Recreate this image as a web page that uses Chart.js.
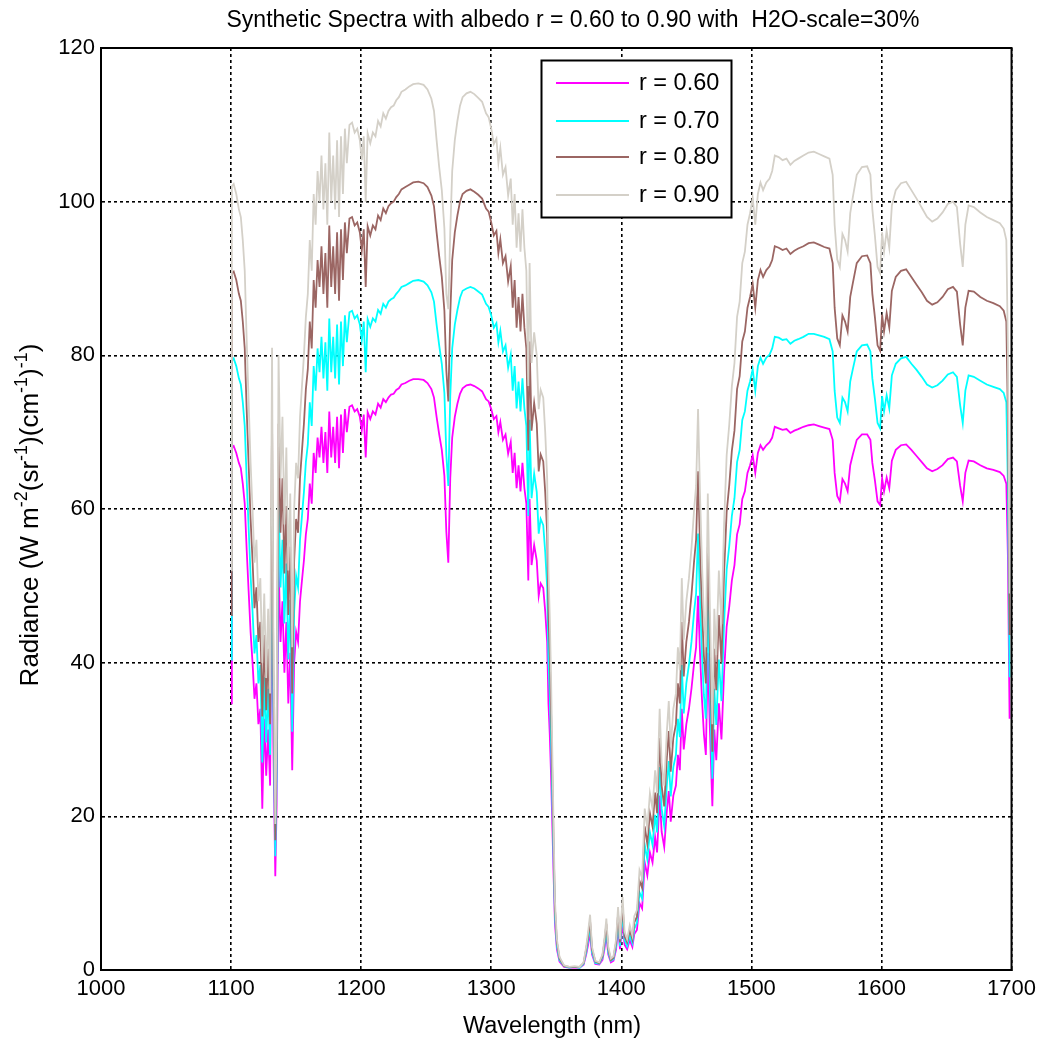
<!DOCTYPE html>
<html>
<head>
<meta charset="utf-8">
<script src="https://cdn.jsdelivr.net/npm/chart.js@4.4.0/dist/chart.umd.min.js"></script>
<style>
  html, body { margin: 0; padding: 0; background: #fff; }
</style>
</head>
<body>
<canvas id="spectra" width="1042" height="1045"></canvas>
<script>
// --- data ---
const wavelength = [
  1100, 1100.6, 1102, 1104, 1106, 1107.5, 1109, 1110.5, 1112, 1113.5,
  1115, 1116.5, 1118, 1119.5, 1121, 1122.5, 1124, 1125.5, 1127, 1128.5,
  1130, 1131.5, 1132.5, 1134, 1135, 1136.5, 1138, 1139.5, 1141, 1142.5,
  1144, 1145.5, 1147, 1148.5, 1150, 1151.5, 1153, 1154.5, 1156, 1157.5,
  1159, 1160.5, 1162, 1163.5, 1165, 1166.5, 1168, 1169.5, 1171, 1172.5,
  1174, 1175.5, 1177, 1178.5, 1180, 1181.5, 1183, 1184.5, 1186, 1187.5,
  1189, 1191, 1193, 1195, 1197, 1199, 1200.5, 1202, 1203.5, 1205,
  1207, 1209, 1211, 1213, 1215, 1217, 1219, 1221, 1223, 1225,
  1227, 1229, 1231, 1234, 1237, 1240, 1244, 1248, 1251, 1254,
  1256, 1258, 1260, 1262, 1264, 1265.5, 1267, 1268.5, 1270, 1272,
  1274, 1276, 1278, 1281, 1284, 1287, 1290, 1293, 1296, 1298,
  1300, 1302, 1304, 1305.5, 1307, 1309, 1311, 1313, 1315, 1316.5,
  1318, 1319.5, 1321, 1322.5, 1324, 1325.5, 1327, 1328.5, 1329.5, 1331,
  1333, 1335, 1336.5, 1338, 1340, 1341.5, 1343, 1344, 1345, 1346,
  1347, 1348, 1349, 1350.5, 1352.5, 1356, 1360, 1364, 1368, 1371,
  1373, 1374.5, 1376, 1377.5, 1380, 1383, 1385.5, 1387, 1388.5, 1390,
  1392, 1394, 1396, 1397.5, 1399, 1401, 1402.5, 1404.5, 1406.5, 1408.5,
  1410, 1412, 1414, 1416, 1418, 1420, 1422, 1424, 1426, 1427.5,
  1429.5, 1431, 1433, 1435, 1436.5, 1438, 1440, 1442, 1443.5, 1445,
  1446.5, 1448, 1450, 1452, 1454, 1456, 1457.5, 1459, 1460.5, 1462,
  1463.5, 1465, 1466.5, 1468, 1470, 1471.5, 1473, 1475, 1477, 1479,
  1481, 1483, 1485, 1487, 1489, 1491, 1493, 1495, 1497, 1499,
  1501, 1503, 1505, 1507, 1509, 1511.5, 1514, 1516, 1518, 1521,
  1524, 1527, 1530, 1533, 1536, 1540, 1544, 1548, 1552, 1556,
  1560, 1562.5, 1564, 1566, 1568, 1570, 1572, 1574, 1576, 1578,
  1581, 1585, 1589, 1591.5, 1593, 1595, 1597, 1599, 1600.5, 1602,
  1604, 1606, 1608, 1611, 1615, 1619, 1623, 1627, 1631, 1635,
  1639, 1643, 1647, 1651, 1655, 1658, 1660.5, 1662.5, 1664.5, 1667,
  1671, 1676, 1681, 1686, 1691, 1694, 1696, 1697.2, 1698.5
];

const r060 = [
  34.7, 68, 68.2, 67.3, 66, 65.3, 63.3, 60.7, 54.7, 49.3,
  44, 40, 35.3, 37.3, 32, 34, 21, 32.7, 25.3, 31.3,
  24, 54, 29.3, 12.2, 21.3, 53.3, 42.7, 48, 38.7, 45.3,
  34.7, 41.3, 26, 40, 44, 42.7, 48, 50.7, 53.3, 56.7,
  58.7, 63.3, 60.7, 67.3, 64.7, 69.3, 66.7, 70.7, 66, 70,
  64.7, 72.7, 66.7, 70.7, 66, 72, 65.3, 72.3, 67.3, 73,
  70, 73.3, 73.5, 72.7, 73, 72, 70.3, 72.3, 66.7, 72.6,
  71.7, 72.7, 72.3, 73.7, 73.2, 74.3, 73.9, 74.5, 74.9, 75,
  75.5, 75.7, 76.2, 76.4, 76.7, 76.9, 76.9, 76.8, 76.4, 75.6,
  74.5, 72, 69.7, 67.7, 64.3, 57, 53, 64, 69.3, 72,
  73.7, 75, 75.7, 76.1, 76.2, 76, 75.7, 75.3, 74.3, 74,
  73, 71.7, 72.1, 70, 71.3, 69, 69.7, 67.2, 68.7, 64.7,
  67.3, 62.7, 65.7, 62.3, 66, 62.7, 60.7, 50.7, 61.3, 52.7,
  55.3, 53.3, 48.7, 50.3, 49.7, 46.7, 42.7, 34.7, 30.7, 25.3,
  18.7, 12, 6, 2.7, 1.1, 0.4, 0.3, 0.3, 0.3, 0.7,
  2, 3.3, 4.8, 2, 0.8, 0.7, 1.3, 2.7, 4.5, 2,
  1, 1.2, 2.7, 5.5, 2.7, 6.3, 3.3, 2.7, 3.9, 3,
  4.7, 5.2, 8.7, 8, 14, 12.3, 15.3, 14, 17.3, 15.3,
  22.7, 18, 16, 20.7, 23.3, 19.3, 22.7, 24, 28, 26,
  34, 28.7, 32, 34, 36.7, 40, 42, 48.7, 41.3, 35.3,
  30.7, 28, 41.3, 32, 21.3, 31.3, 27.3, 34.7, 30, 38.7,
  44.7, 47.3, 50.7, 52.7, 56.7, 58, 61.3, 62.3, 64.7, 65.7,
  67, 64.7, 67.3, 68.3, 67.7, 68.3, 68.7, 69.3, 70.7, 70.5,
  70.3, 70.4, 69.9, 70.2, 70.4, 70.7, 70.9, 71, 70.8, 70.6,
  70.4, 69, 64.7, 61.7, 61, 63.9, 63.3, 62.3, 65.7, 67.1,
  69, 69.7, 69.7, 69, 66, 63.7, 61, 60.5, 64, 62.3,
  64.1, 62.7, 66.3, 67.7, 68.3, 68.4, 67.7, 66.9, 66.1, 65.3,
  64.9, 65.2, 65.7, 66.5, 66.7, 66.2, 63, 61, 64.7, 66.3,
  66.2, 65.7, 65.3, 65.1, 64.8, 64.3, 63.3, 54, 32.7
];

const r070 = [
  40.4, 79.3, 79.6, 78.6, 77, 76.2, 73.9, 70.8, 63.8, 57.6,
  51.3, 46.7, 41.2, 43.6, 37.3, 39.7, 27, 38.1, 29.6, 36.6,
  28, 63, 34.2, 14.8, 24.9, 62.2, 49.8, 56, 45.1, 52.9,
  40.4, 48.2, 31, 46.7, 51.3, 49.8, 56, 59.1, 62.2, 66.1,
  68.4, 73.9, 70.8, 78.6, 75.4, 80.9, 77.8, 82.4, 77, 81.7,
  75.4, 84.8, 77.8, 82.4, 77, 84, 76.2, 84.4, 78.6, 85.2,
  81.7, 85.6, 85.8, 84.8, 85.2, 84, 82, 84.4, 77.8, 84.7,
  83.7, 84.8, 84.4, 85.9, 85.4, 86.7, 86.2, 87, 87.3, 87.5,
  88, 88.4, 88.9, 89.1, 89.4, 89.7, 89.8, 89.6, 89.1, 88.2,
  87, 84, 81.3, 78.9, 75.1, 67, 63, 74.7, 80.9, 84,
  85.9, 87.5, 88.4, 88.7, 88.9, 88.7, 88.3, 87.9, 86.7, 86.3,
  85.2, 83.6, 84.2, 81.7, 83.2, 80.5, 81.3, 78.4, 80.1, 75.4,
  78.6, 73.1, 76.6, 72.7, 77, 73.1, 70.8, 59.1, 71.6, 61.4,
  64.6, 62.2, 56.8, 58.7, 57.9, 54.4, 49.8, 40.4, 35.8, 29.6,
  21.8, 14, 7, 3.1, 1.3, 0.5, 0.3, 0.4, 0.3, 0.8,
  2.3, 3.9, 5.6, 2.3, 0.9, 0.8, 1.6, 3.1, 5.2, 2.3,
  1.2, 1.4, 3.1, 6.4, 3.1, 7.4, 3.9, 3.1, 4.5, 3.5,
  5.4, 6.1, 10.1, 9.3, 16.3, 14.4, 17.9, 16.3, 20.2, 17.9,
  26.4, 21, 18.7, 24.1, 27.2, 22.6, 26.4, 28, 32.7, 30.3,
  39.7, 33.4, 37.3, 39.7, 42.8, 46.7, 49, 56.8, 48.2, 41.2,
  35.8, 32.7, 48.2, 37.3, 24.9, 36.6, 31.9, 40.4, 35, 45.1,
  52.1, 55.2, 59.1, 61.4, 66.1, 67.7, 71.6, 72.7, 75.4, 76.6,
  78.2, 75.4, 78.6, 79.7, 78.9, 79.7, 80.1, 80.9, 82.4, 82.3,
  82, 82.1, 81.5, 81.9, 82.1, 82.4, 82.8, 82.8, 82.6, 82.4,
  82.1, 80.5, 75.4, 71.9, 71.2, 74.5, 73.9, 72.7, 76.6, 78.2,
  80.5, 81.3, 81.4, 80.5, 77, 74.3, 71.2, 70.5, 74.7, 72.7,
  74.8, 73.1, 77.4, 78.9, 79.6, 79.8, 78.9, 78.1, 77.2, 76.2,
  75.8, 76.1, 76.7, 77.5, 77.8, 77.2, 73.5, 71.2, 75.4, 77.4,
  77.2, 76.7, 76.2, 75.9, 75.6, 75.1, 73.9, 63, 38.1
];

const r080 = [
  46.2, 90.7, 90.9, 89.8, 88, 87.1, 84.4, 80.9, 72.9, 65.8,
  58.7, 53.3, 47.1, 49.8, 42.7, 45.3, 33, 43.6, 33.8, 41.8,
  32, 72, 39.1, 16.9, 28.4, 71.1, 56.9, 64, 51.6, 60.4,
  46.2, 55.1, 36, 53.3, 58.7, 56.9, 64, 67.6, 71.1, 75.6,
  78.2, 84.4, 80.9, 89.8, 86.2, 92.4, 88.9, 94.2, 88, 93.3,
  86.2, 96.9, 88.9, 94.2, 88, 96, 87.1, 96.4, 89.8, 97.3,
  93.3, 97.8, 98, 96.9, 97.3, 96, 93.7, 96.4, 88.9, 96.8,
  95.6, 96.9, 96.4, 98.2, 97.6, 99.1, 98.5, 99.4, 99.8, 100,
  100.6, 101, 101.6, 101.9, 102.2, 102.5, 102.6, 102.4, 101.9, 100.8,
  99.4, 96, 92.9, 90.2, 85.8, 78, 74, 85.3, 92.4, 96,
  98.2, 100, 101, 101.4, 101.6, 101.3, 100.9, 100.4, 99.1, 98.7,
  97.3, 95.6, 96.2, 93.3, 95.1, 92, 92.9, 89.6, 91.6, 86.2,
  89.8, 83.6, 87.6, 83.1, 88, 83.6, 80.9, 67.6, 81.8, 70.2,
  73.8, 71.1, 64.9, 67.1, 66.2, 62.2, 56.9, 46.2, 40.9, 33.8,
  24.9, 16, 8, 3.6, 1.5, 0.5, 0.4, 0.4, 0.4, 0.9,
  2.7, 4.4, 6.4, 2.7, 1.1, 0.9, 1.8, 3.6, 6, 2.7,
  1.3, 1.6, 3.6, 7.3, 3.6, 8.4, 4.4, 3.6, 5.2, 4,
  6.2, 6.9, 11.6, 10.7, 18.7, 16.4, 20.4, 18.7, 23.1, 20.4,
  30.2, 24, 21.3, 27.6, 31.1, 25.8, 30.2, 32, 37.3, 34.7,
  45.3, 38.2, 42.7, 45.3, 48.9, 53.3, 56, 64.9, 55.1, 47.1,
  40.9, 37.3, 55.1, 42.7, 28.4, 41.8, 36.4, 46.2, 40, 51.6,
  59.6, 63.1, 67.6, 70.2, 75.6, 77.3, 81.8, 83.1, 86.2, 87.6,
  89.3, 86.2, 89.8, 91.1, 90.2, 91.1, 91.6, 92.4, 94.2, 94,
  93.7, 93.9, 93.2, 93.6, 93.9, 94.2, 94.6, 94.7, 94.4, 94.1,
  93.9, 92, 86.2, 82.2, 81.3, 85.2, 84.4, 83.1, 87.6, 89.4,
  92, 92.9, 93, 92, 88, 84.9, 81.3, 80.6, 85.3, 83.1,
  85.5, 83.6, 88.4, 90.2, 91, 91.2, 90.2, 89.2, 88.2, 87.1,
  86.6, 86.9, 87.6, 88.6, 88.9, 88.3, 84, 81.3, 86.2, 88.4,
  88.3, 87.6, 87.1, 86.8, 86.4, 85.8, 84.4, 72, 43.6
];

const r090 = [
  52, 102, 102.3, 101, 99, 98, 95, 91, 82, 74,
  66, 60, 53, 56, 48, 51, 40, 49, 38, 47,
  36, 81, 44, 19, 32, 80, 64, 72, 58, 68,
  52, 62, 42, 60, 66, 64, 72, 76, 80, 85,
  88, 95, 91, 101, 97, 104, 100, 106, 99, 105,
  97, 109, 100, 106, 99, 108, 98, 108.5, 101, 109.5,
  105, 110, 110.3, 109, 109.5, 108, 105.4, 108.5, 100, 108.9,
  107.6, 109, 108.5, 110.5, 109.8, 111.5, 110.8, 111.8, 112.3, 112.5,
  113.2, 113.6, 114.3, 114.6, 115, 115.3, 115.4, 115.2, 114.6, 113.4,
  111.8, 108, 104.5, 101.5, 96.5, 88, 86, 96, 104, 108,
  110.5, 112.5, 113.6, 114.1, 114.3, 114, 113.5, 113, 111.5, 111,
  109.5, 107.5, 108.2, 105, 107, 103.5, 104.5, 100.8, 103, 97,
  101, 94, 98.5, 93.5, 99, 94, 91, 76, 92, 79,
  83, 80, 73, 75.5, 74.5, 70, 64, 52, 46, 38,
  28, 18, 9, 4, 1.7, 0.6, 0.4, 0.5, 0.4, 1,
  3, 5, 7.2, 3, 1.2, 1, 2, 4, 6.7, 3,
  1.5, 1.8, 4, 8.2, 4, 9.5, 5, 4, 5.8, 4.5,
  7, 7.8, 13, 12, 21, 18.5, 23, 21, 26, 23,
  34, 27, 24, 31, 35, 29, 34, 36, 42, 39,
  51, 43, 48, 51, 55, 60, 63, 73, 62, 53,
  46, 42, 62, 48, 32, 47, 41, 52, 45, 58,
  67, 71, 76, 79, 85, 87, 92, 93.5, 97, 98.5,
  100.5, 97, 101, 102.5, 101.5, 102.5, 103, 104, 106, 105.8,
  105.4, 105.6, 104.8, 105.3, 105.6, 106, 106.4, 106.5, 106.2, 105.9,
  105.6, 103.5, 97, 92.5, 91.5, 95.8, 95, 93.5, 98.5, 100.6,
  103.5, 104.5, 104.6, 103.5, 99, 95.5, 91.5, 90.7, 96, 93.5,
  96.2, 94, 99.5, 101.5, 102.4, 102.6, 101.5, 100.4, 99.2, 98,
  97.4, 97.8, 98.6, 99.7, 100, 99.3, 94.5, 91.5, 97, 99.5,
  99.3, 98.6, 98, 97.6, 97.2, 96.5, 95, 81, 49
];

const seriesNames = ["r = 0.60", "r = 0.70", "r = 0.80", "r = 0.90"];
const seriesColors = ["#ff00ff", "#00ffff", "#9b6663", "#d4d0c8"];
const xTicks = { min: 1000, max: 1700, step: 100 };
const yTicks = { min: 0, max: 120, step: 20 };

const titleText = "Synthetic Spectra with albedo r = 0.60 to 0.90 with  H2O-scale=30%";
const xTitleText = "Wavelength (nm)";
// y title pieces: [text, is superscript]
const yTitleParts = [["Radiance (W m", 0], ["-2", 1], ["(sr", 0], ["-1", 1], [")(cm", 0], ["-1", 1], [")", 0], ["-1", 1], [")", 0]];

const FONT = '"Liberation Sans", Arial, Helvetica, sans-serif';

// --- frame, titles, legend ---
const decorations = {
    id: "decorations",
    afterDraw(chart) {
        const { ctx, chartArea: a } = chart;
        ctx.save();
        ctx.strokeStyle = "#000";
        ctx.lineWidth = 2;
        ctx.strokeRect(a.left, a.top, a.right - a.left, a.bottom - a.top);

        ctx.fillStyle = "#000";
        ctx.textAlign = "center";
        ctx.textBaseline = "middle";
        ctx.font = "23px " + FONT;
        ctx.fillText(titleText, 573, 21);
        ctx.font = "23.5px " + FONT;
        ctx.fillText(xTitleText, 552, 1027);

        // y axis title with superscripts
        const base = "26px " + FONT, sup = "18px " + FONT;
        let total = 0;
        yTitleParts.forEach(p => { ctx.font = p[1] ? sup : base; total += ctx.measureText(p[0]).width; });
        ctx.translate(31, 515);
        ctx.rotate(-Math.PI / 2);
        ctx.textAlign = "left";
        let x = -total / 2;
        yTitleParts.forEach(p => {
            ctx.font = p[1] ? sup : base;
            ctx.fillText(p[0], x, p[1] ? -9 : 0);
            x += ctx.measureText(p[0]).width;
        });
        ctx.setTransform(1, 0, 0, 1, 0, 0);

        // legend box
        const lx = 541.5, ly = 60.5, lw = 190, lh = 157;
        ctx.fillStyle = "#fff";
        ctx.fillRect(lx, ly, lw, lh);
        ctx.strokeStyle = "#000";
        ctx.lineWidth = 2;
        ctx.strokeRect(lx, ly, lw, lh);
        const rows = [83, 121, 157, 195];
        ctx.font = "23.5px " + FONT;
        ctx.textAlign = "left";
        chart.data.datasets.forEach((ds, i) => {
            ctx.strokeStyle = ds.borderColor;
            ctx.lineWidth = 2;
            ctx.beginPath();
            ctx.moveTo(556, rows[i]);
            ctx.lineTo(629, rows[i]);
            ctx.stroke();
            ctx.fillStyle = "#000";
            ctx.fillText(ds.label, 639, rows[i] + 1);
        });
        ctx.restore();
    }
};

const datasets = [r060, r070, r080, r090].map((vals, i) => ({
    label: seriesNames[i],
    data: wavelength.map((w, k) => ({ x: w, y: vals[k] })),
    borderColor: seriesColors[i],
    borderWidth: 1.8,
    pointRadius: 0,
    tension: 0,
    fill: false,
    order: 4 - i
}));

new Chart(document.getElementById("spectra"), {
    type: "line",
    data: { datasets },
    options: {
        responsive: false,
        animation: false,
        devicePixelRatio: 1,
        layout: { padding: { top: 48, right: 30, left: 0, bottom: 0 } },
        plugins: { legend: { display: false }, tooltip: { enabled: false }, title: { display: false } },
        scales: {
            x: {
                type: "linear",
                min: xTicks.min, max: xTicks.max,
                afterFit: s => { s.height = 75; },
                ticks: { stepSize: xTicks.step, color: "#000", padding: 6, maxRotation: 0, font: { size: 22, family: FONT }, callback: v => String(v) },
                grid: { color: "#000", lineWidth: 1.6, drawTicks: false },
                border: { display: true, color: "#000", width: 2, dash: [3, 3] }
            },
            y: {
                min: yTicks.min, max: yTicks.max,
                afterFit: s => { s.width = 101; },
                ticks: { stepSize: yTicks.step, color: "#000", padding: 6, font: { size: 22, family: FONT }, callback: v => String(v) },
                grid: { color: "#000", lineWidth: 1.6, drawTicks: false },
                border: { display: true, color: "#000", width: 2, dash: [3, 3] }
            }
        }
    },
    plugins: [decorations]
});
</script>
</body>
</html>
